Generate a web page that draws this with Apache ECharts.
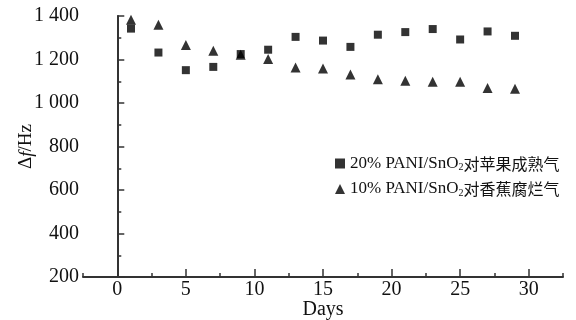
<!DOCTYPE html>
<html>
<head>
<meta charset="utf-8">
<script src="https://cdn.jsdelivr.net/npm/echarts@6/dist/echarts.min.js"></script>
<style>
  html, body { margin: 0; padding: 0; background: #fff; }
  #chart { width: 576px; height: 320px; }
</style>
</head>
<body>
<div id="chart"></div>
<script>
// Storage time in days
const days = [1, 3, 5, 7, 9, 11, 13, 15, 17, 19, 21, 23, 25, 27, 29];
// Frequency shift (Hz) of the two sensor films
const appleSeries = [1342, 1232, 1151, 1166, 1225, 1245, 1304, 1287, 1258, 1314, 1326, 1340, 1292, 1329, 1309];
const bananaSeries = [1383, 1360, 1267, 1240, 1222, 1202, 1163, 1159, 1131, 1109, 1102, 1098, 1098, 1069, 1066];
const appleName = '20% PANI/SnO2对苹果成熟气';
const bananaName = '10% PANI/SnO2对香蕉腐烂气';
const yTicks = [200, 400, 600, 800, 1000, 1200, 1400];
const xTicks = [0, 5, 10, 15, 20, 25, 30];

const serif = '"Liberation Serif", "Times New Roman", serif';
const cjk = '"Noto Sans CJK SC", sans-serif';
const ink = '#111';

function pairs(xs, ys) { return xs.map((x, i) => [x, ys[i]]); }
function fmtThousands(v) {
  const s = String(v);
  return s.length > 3 ? s.slice(0, s.length - 3) + ' ' + s.slice(-3) : s;
}

const chart = echarts.init(document.getElementById('chart'), null, { renderer: 'canvas' });
chart.setOption({
  backgroundColor: '#fff',
  animation: false,
  grid: [
    { left: 83, right: 13, top: 16, bottom: 43, containLabel: false, outerBoundsMode: 'none' },
    // overlay grid whose axis carries the longer ticks at every 5 days
    { left: 83 + 2.5 * 480 / 35, right: 13 + 2.5 * 480 / 35, top: 16, bottom: 43, containLabel: false, outerBoundsMode: 'none' }
  ],
  legend: {
    orient: 'vertical',
    left: 330,
    top: 150,
    itemGap: 8,
    itemWidth: 10,
    itemHeight: 10,
    data: [
      { name: appleName, icon: 'rect' },
      { name: bananaName, icon: 'triangle' }
    ],
    formatter: function (name) {
      const parts = name.split('SnO2');
      return '{t|' + parts[0] + 'SnO}{s|2}{c|' + parts[1] + '}';
    },
    textStyle: {
      color: ink,
      rich: {
        t: { fontFamily: serif, fontSize: 17, color: ink, lineHeight: 18 },
        s: { fontFamily: serif, fontSize: 10, color: ink, verticalAlign: 'bottom', padding: [8, 0, 0, 0] },
        c: { fontFamily: cjk, fontSize: 16, color: ink, lineHeight: 18 }
      }
    }
  },
  xAxis: [
    {
      type: 'value',
      gridIndex: 0,
      min: -2.5,
      max: 32.5,
      interval: 2.5,
      name: 'Days',
      nameLocation: 'middle',
      nameGap: 23,
      nameMoveOverlap: false,
      nameTextStyle: { fontFamily: serif, fontSize: 20, color: ink },
      axisLine: { show: true, lineStyle: { color: '#333', width: 2 } },
      axisTick: { show: true, inside: true, length: 4, lineStyle: { color: '#333', width: 1.5 } },
      axisLabel: {
        fontFamily: serif, fontSize: 20, color: ink, margin: 3,
        formatter: function (v) { return xTicks.indexOf(v) >= 0 ? String(v) : ''; }
      },
      splitLine: { show: false }
    },
    {
      type: 'value',
      gridIndex: 1,
      min: 0,
      max: 30,
      interval: 5,
      axisLine: { show: false },
      axisTick: { show: true, inside: true, length: 8, lineStyle: { color: '#333', width: 1.5 } },
      axisLabel: { show: false },
      splitLine: { show: false }
    }
  ],
  yAxis: [
    {
      type: 'value',
      gridIndex: 0,
      min: yTicks[0],
      max: yTicks[yTicks.length - 1],
      interval: 200,
      name: '{d|Δ}{i|f}{d|/Hz}',
      nameLocation: 'middle',
      nameGap: 47,
      nameMoveOverlap: false,
      nameTextStyle: {
        color: ink,
        rich: {
          d: { fontFamily: serif, fontSize: 19, color: ink },
          i: { fontFamily: serif, fontSize: 19, color: ink, fontStyle: 'italic' }
        }
      },
      axisLine: { show: true, lineStyle: { color: '#333', width: 2 } },
      axisTick: { show: true, inside: true, length: 7, lineStyle: { color: '#333', width: 1.5 } },
      minorTick: { show: true, splitNumber: 2, length: 4, lineStyle: { color: '#333', width: 1.5 } },
      axisLabel: {
        fontFamily: serif, fontSize: 20, color: ink, margin: 4,
        formatter: function (v) { return fmtThousands(v); }
      },
      splitLine: { show: false }
    },
    {
      type: 'value',
      gridIndex: 1,
      min: 200,
      max: 1400,
      show: false
    }
  ],
  series: [
    {
      name: appleName,
      type: 'scatter',
      xAxisIndex: 0,
      yAxisIndex: 0,
      symbol: 'rect',
      symbolSize: 8,
      itemStyle: { color: '#000' },
      data: pairs(days, appleSeries)
    },
    {
      name: bananaName,
      type: 'scatter',
      xAxisIndex: 0,
      yAxisIndex: 0,
      symbol: 'triangle',
      symbolSize: 10,
      itemStyle: { color: '#000' },
      data: pairs(days, bananaSeries)
    }
  ]
});
</script>
</body>
</html>
